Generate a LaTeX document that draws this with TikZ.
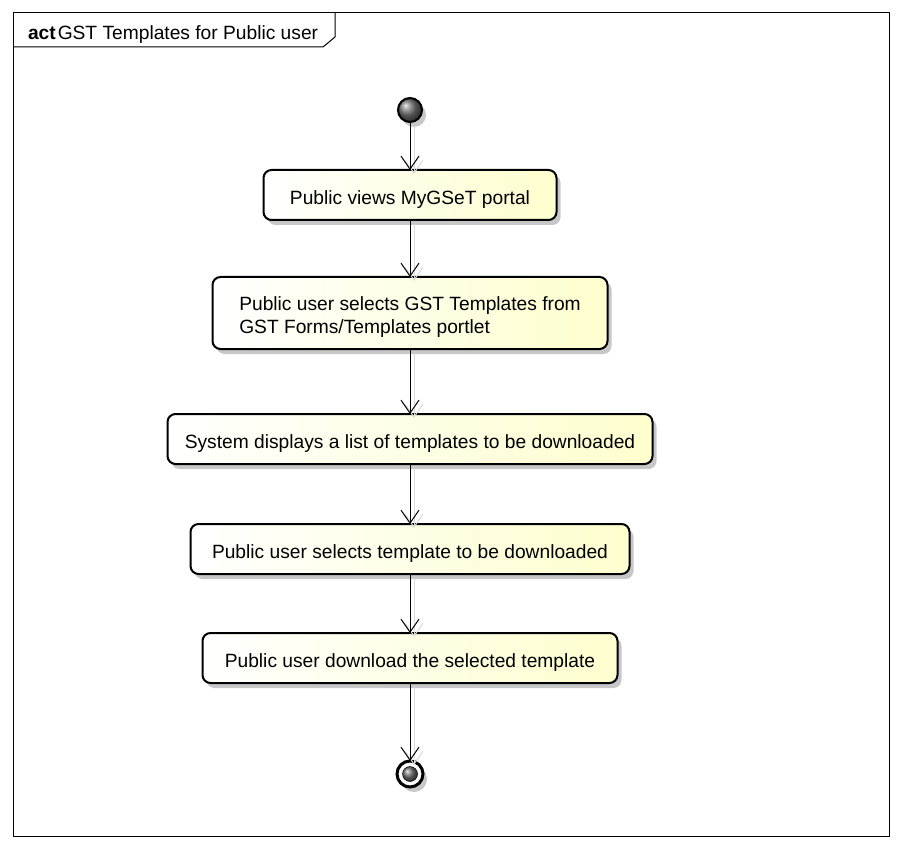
\documentclass[tikz,border=0pt]{standalone}
\usepackage{fontspec}
\setmainfont{Liberation Sans}
\usetikzlibrary{arrows.meta,shadows}
\definecolor{actfill}{RGB}{254,254,206}

\begin{document}
\begin{tikzpicture}[x=1pt,y=-1pt,inner sep=0pt,outer sep=0pt,
	font=\fontsize{19.2}{23}\selectfont,
	shade/.style={drop shadow={shadow xshift=4pt,shadow yshift=-5pt,fill=black!22,opacity=1}},
	act/.style={rectangle, rounded corners=8pt, draw=black, line width=2pt, left color=white, right color=actfill, minimum height=50pt, text height=23pt, text depth=4pt, shade},
	flow/.style={draw=black, line width=1pt, -{Straight Barb[length=13pt,width=18pt]}},
	flowshade/.style={draw=black!15, line width=1pt, -{Straight Barb[length=13pt,width=18pt]}}]
	\useasboundingbox (0,0) rectangle (902,850);

	% frame and title tab
	\draw[line width=1pt] (13,13) rectangle (889,836);
	\draw[line width=1pt] (13,47) -- (323,47) -- (335,37) -- (335,13);
	\node[anchor=base west] at (28,40) (title) {\textbf{act}\kern2pt GST Templates for Public user};

	\node[circle, draw=black, line width=2pt, minimum size=24pt, ball color=black!55, shade] at (410,110) (init) {};
	\node[act, minimum width=395pt, minimum height=72pt, text height=45pt, text depth=4pt, align=left] at (410,313) (act_2) {Public user selects GST Templates from\\GST Forms/Templates portlet};
	\node[act, minimum width=293pt] at (410,195) (act_1) {Public views MyGSeT portal};
	\node[act, minimum width=485pt] at (410,439) (act_3) {System displays a list of templates to be downloaded};
	\node[act, minimum width=439pt] at (410,549) (act_4) {Public user selects template to be downloaded};
	\node[act, minimum width=415pt] at (410,658) (act_5) {Public user download the selected template};
	\node[circle, draw=black, line width=3pt, minimum size=26pt, fill=white, shade] at (410,774) (final) {};
	\node[circle, draw=black, line width=0.5pt, minimum size=15pt, ball color=black!55] at (final) (final_dot) {};

	\foreach \a/\b in {init/act_1, act_1/act_2, act_2/act_3, act_3/act_4, act_4/act_5, act_5/final}
	{
		\draw[flowshade] ([shift={(4pt,-4pt)}]\a.south) -- ([shift={(4pt,-4pt)}]\b.north);
		\draw[flow] (\a.south) -- (\b.north);
	}
\end{tikzpicture}
\end{document}
